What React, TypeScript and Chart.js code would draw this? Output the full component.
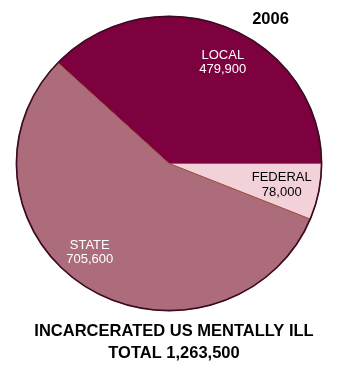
import React, { useEffect, useRef } from "react";
import { Chart, registerables } from "chart.js";

Chart.register(...registerables);

const categories = ["LOCAL", "FEDERAL", "STATE"];
const values = [479900, 78000, 705600];
const valueLabels = ["479,900", "78,000", "705,600"];
const sliceColors = ["#7D003F", "#F2D1D9", "#AD6C7B"];
const labelColors = ["#FFFFFF", "#000000", "#FFFFFF"];
const labelAngleOffsets = [5.5, 0, 8];
const labelRadiusFractions = [0.773, 0.753, 0.796];
const yearLabel = "2006";
const titleLines = ["INCARCERATED US MENTALLY ILL", "TOTAL 1,263,500"];

const total = values.reduce((a, b) => a + b, 0);
const X_STRETCH = 153 / 147.5;
const FONT = "'Liberation Sans', Arial, sans-serif";

const ellipsePlugin = {
  id: "ellipse",
  beforeDatasetsDraw(chart: any) {
    const arc = chart.getDatasetMeta(0).data[0];
    const ctx = chart.ctx;
    ctx.save();
    ctx.translate(arc.x, arc.y);
    ctx.scale(X_STRETCH, 1);
    ctx.translate(-arc.x, -arc.y);
  },
  afterDatasetsDraw(chart: any) {
    const ctx = chart.ctx;
    const meta = chart.getDatasetMeta(0);
    const first = meta.data[0];
    // outer rim (still in stretched space)
    ctx.beginPath();
    ctx.arc(first.x, first.y, first.outerRadius, 0, Math.PI * 2);
    ctx.lineWidth = 1.6;
    ctx.strokeStyle = "#3B0A22";
    ctx.stroke();
    ctx.restore();

    ctx.save();
    ctx.textAlign = "center";
    ctx.textBaseline = "middle";
    meta.data.forEach((arc: any, i: number) => {
      const { x, y, startAngle, endAngle, outerRadius } = arc.getProps(
        ["x", "y", "startAngle", "endAngle", "outerRadius"],
        true
      );
      const a = (startAngle + endAngle) / 2 + (labelAngleOffsets[i] * Math.PI) / 180;
      const r = outerRadius * labelRadiusFractions[i];
      const lx = x + Math.cos(a) * r * X_STRETCH;
      const ly = y + Math.sin(a) * r;
      ctx.fillStyle = labelColors[i];
      ctx.font = `13px ${FONT}`;
      ctx.fillText(categories[i], lx, ly - 7);
      ctx.fillText(valueLabels[i], lx, ly + 7.5);
    });
    ctx.fillStyle = "#000000";
    ctx.font = `bold 16.5px ${FONT}`;
    ctx.fillText(yearLabel, 270.5, 19.5);
    ctx.fillText(titleLines[0], 174, 331);
    ctx.fillText(titleLines[1], 174, 353);
    ctx.restore();
  },
};

export default function App() {
  const ref = useRef<HTMLCanvasElement | null>(null);
  useEffect(() => {
    if (!ref.current) return;
    const chart = new Chart(ref.current, {
      type: "pie",
      data: {
        labels: categories,
        datasets: [
          {
            data: values,
            backgroundColor: sliceColors,
            borderColor: "#9A4A30",
            borderWidth: 0.8,
          },
        ],
      },
      options: {
        animation: false,
        responsive: false,
        rotation: 90 - (360 * values[0]) / total,
        layout: { padding: { top: 16, bottom: 62, left: 21.5, right: 37.5 } },
        plugins: {
          legend: { display: false },
          tooltip: { enabled: false },
          title: { display: false },
        },
      },
      plugins: [ellipsePlugin],
    });
    return () => chart.destroy();
  }, []);
  return (
    <div style={{ position: "absolute", left: 0, top: 0, width: 354, height: 373, background: "#fff" }}>
      <canvas ref={ref} width={354} height={373} style={{ display: "block" }} />
    </div>
  );
}
